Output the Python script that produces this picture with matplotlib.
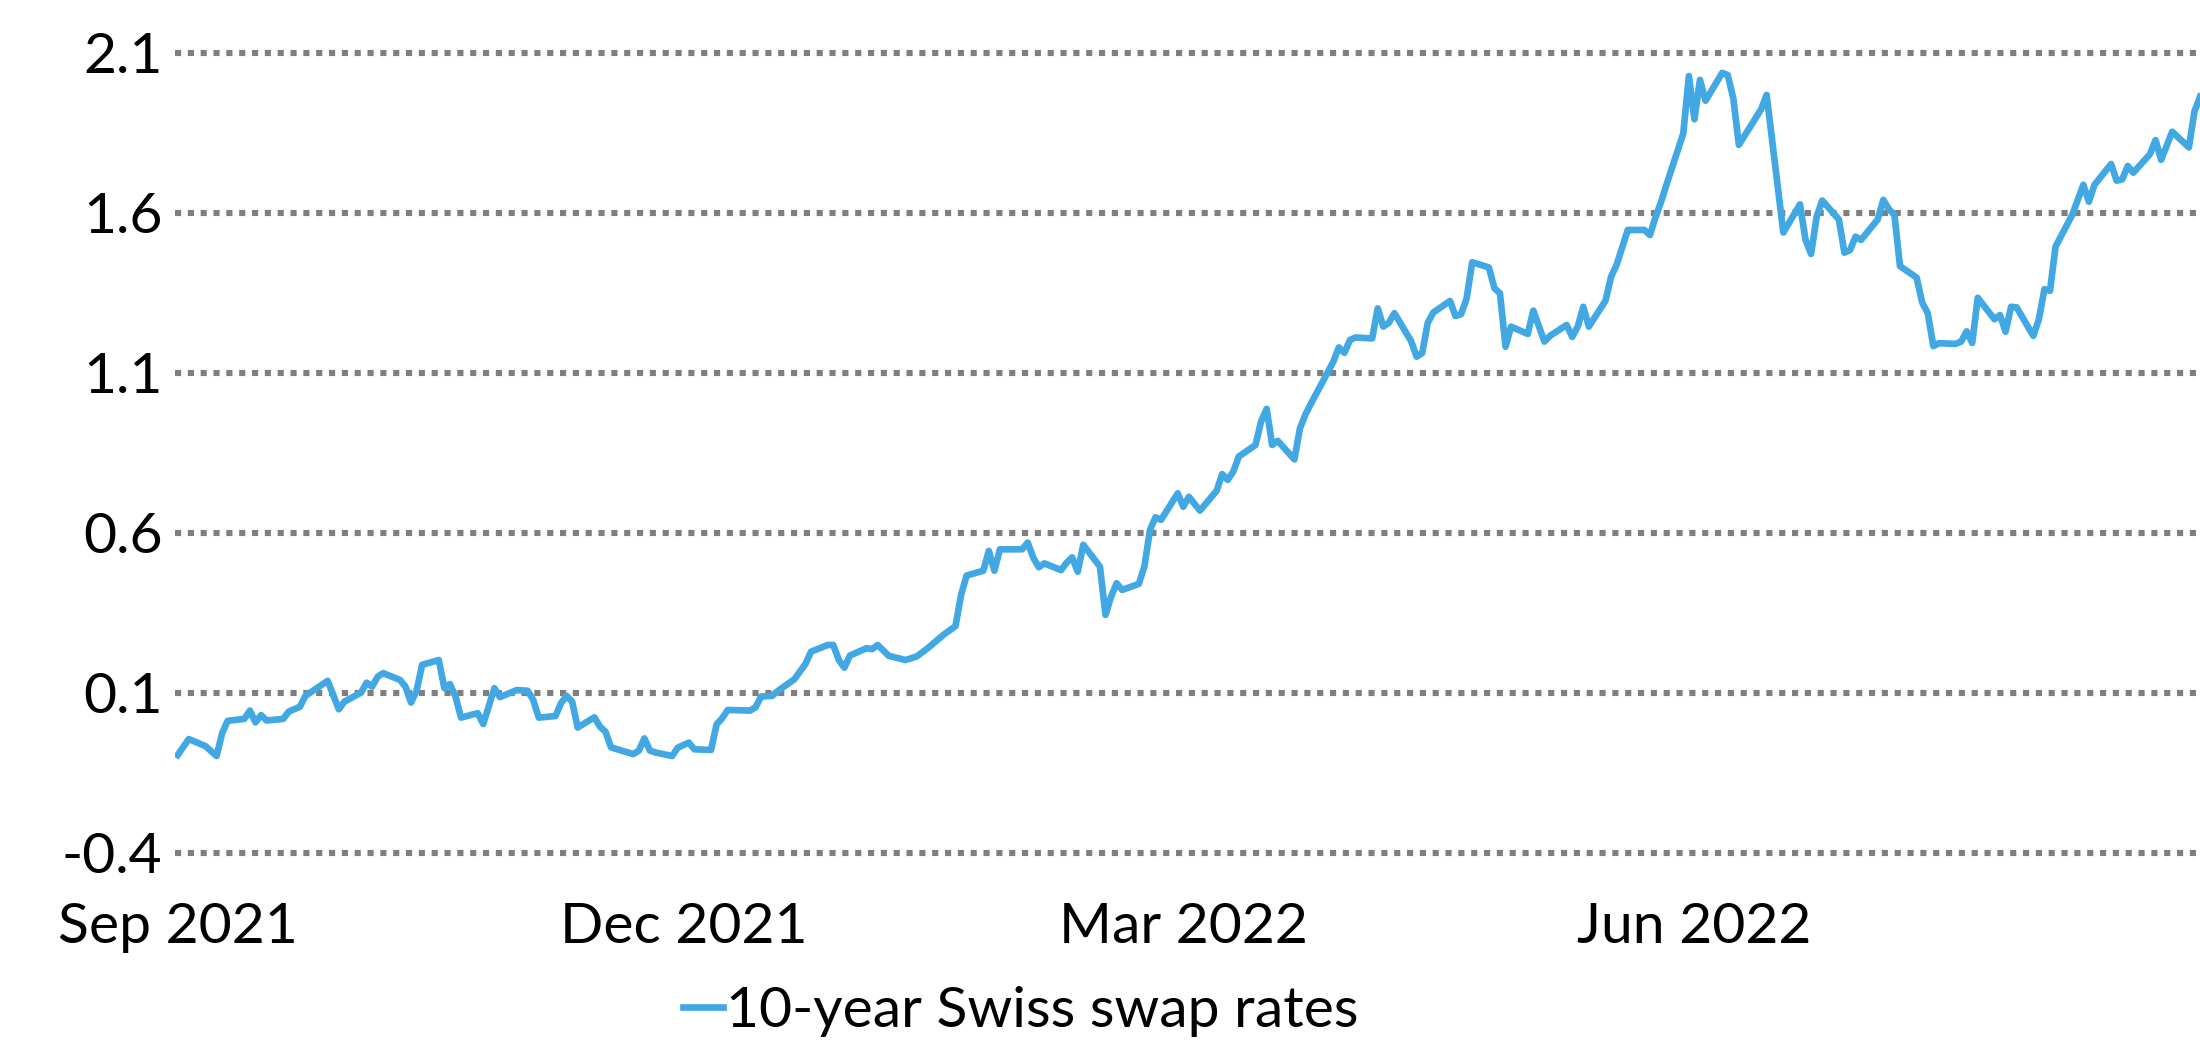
import pandas as pd
import matplotlib.pyplot as plt

plt.rcParams['font.family'] = ['Lato', 'DejaVu Sans']

# 10-year Swiss swap rate (turning points)
dates = [
    "2021-09-01", "2021-09-03", "2021-09-06", "2021-09-08", "2021-09-09", "2021-09-10",
    "2021-09-13", "2021-09-14", "2021-09-15", "2021-09-16", "2021-09-17", "2021-09-20",
    "2021-09-21", "2021-09-23", "2021-09-24", "2021-09-28", "2021-09-30", "2021-10-01",
    "2021-10-04", "2021-10-05", "2021-10-06", "2021-10-07", "2021-10-08", "2021-10-11",
    "2021-10-12", "2021-10-13", "2021-10-14", "2021-10-15", "2021-10-18", "2021-10-19",
    "2021-10-20", "2021-10-21", "2021-10-22", "2021-10-25", "2021-10-26", "2021-10-28",
    "2021-10-29", "2021-11-01", "2021-11-03", "2021-11-04", "2021-11-05", "2021-11-08",
    "2021-11-09", "2021-11-10", "2021-11-11", "2021-11-12", "2021-11-15", "2021-11-16",
    "2021-11-17", "2021-11-18", "2021-11-22", "2021-11-23", "2021-11-24", "2021-11-25",
    "2021-11-26", "2021-11-29", "2021-11-30", "2021-12-02", "2021-12-03", "2021-12-06",
    "2021-12-07", "2021-12-08", "2021-12-09", "2021-12-13", "2021-12-14", "2021-12-15",
    "2021-12-17", "2021-12-18", "2021-12-21", "2021-12-23", "2021-12-24", "2021-12-27",
    "2021-12-28", "2021-12-29", "2021-12-30", "2021-12-31", "2022-01-03", "2022-01-04",
    "2022-01-05", "2022-01-07", "2022-01-10", "2022-01-12", "2022-01-14", "2022-01-17",
    "2022-01-19", "2022-01-20", "2022-01-21", "2022-01-24", "2022-01-25", "2022-01-26",
    "2022-01-27", "2022-01-31", "2022-02-01", "2022-02-02", "2022-02-03", "2022-02-04",
    "2022-02-07", "2022-02-08", "2022-02-09", "2022-02-10", "2022-02-11", "2022-02-14",
    "2022-02-15", "2022-02-16", "2022-02-17", "2022-02-18", "2022-02-21", "2022-02-22",
    "2022-02-23", "2022-02-24", "2022-02-25", "2022-02-28", "2022-03-01", "2022-03-02",
    "2022-03-04", "2022-03-07", "2022-03-08", "2022-03-09", "2022-03-10", "2022-03-11",
    "2022-03-14", "2022-03-15", "2022-03-16", "2022-03-17", "2022-03-18", "2022-03-21",
    "2022-03-22", "2022-03-23", "2022-03-24", "2022-03-28", "2022-03-29", "2022-03-30",
    "2022-03-31", "2022-04-01", "2022-04-04", "2022-04-05", "2022-04-06", "2022-04-07",
    "2022-04-08", "2022-04-11", "2022-04-12", "2022-04-13", "2022-04-14", "2022-04-15",
    "2022-04-18", "2022-04-19", "2022-04-20", "2022-04-21", "2022-04-22", "2022-04-25",
    "2022-04-26", "2022-04-27", "2022-04-28", "2022-04-29", "2022-05-02", "2022-05-03",
    "2022-05-05", "2022-05-06", "2022-05-09", "2022-05-10", "2022-05-11", "2022-05-12",
    "2022-05-13", "2022-05-16", "2022-05-17", "2022-05-18", "2022-05-20", "2022-05-23",
    "2022-05-24", "2022-05-25", "2022-05-26", "2022-05-27", "2022-05-30", "2022-05-31",
    "2022-06-01", "2022-06-02", "2022-06-03", "2022-06-06", "2022-06-07", "2022-06-08",
    "2022-06-09", "2022-06-13", "2022-06-14", "2022-06-17", "2022-06-20", "2022-06-21",
    "2022-06-22", "2022-06-23", "2022-06-24", "2022-06-27", "2022-06-28", "2022-06-29",
    "2022-06-30", "2022-07-01", "2022-07-04", "2022-07-05", "2022-07-06", "2022-07-07",
    "2022-07-08", "2022-07-11", "2022-07-12", "2022-07-13", "2022-07-14", "2022-07-15",
    "2022-07-18", "2022-07-19", "2022-07-20", "2022-07-21", "2022-07-22", "2022-07-25",
    "2022-07-26", "2022-07-27", "2022-07-28", "2022-07-29", "2022-08-01", "2022-08-02",
    "2022-08-03", "2022-08-04", "2022-08-05", "2022-08-08", "2022-08-10", "2022-08-11",
    "2022-08-12", "2022-08-15", "2022-08-16", "2022-08-17", "2022-08-18", "2022-08-19",
    "2022-08-22", "2022-08-23", "2022-08-24", "2022-08-26", "2022-08-29", "2022-08-30",
    "2022-08-31",
]
rates = [
    -0.094, -0.044, -0.066, -0.097, -0.026, 0.013,
    0.019, 0.045, 0.008, 0.031, 0.014, 0.019,
    0.042, 0.057, 0.091, 0.138, 0.049, 0.073,
    0.101, 0.132, 0.120, 0.151, 0.162, 0.141,
    0.120, 0.070, 0.107, 0.188, 0.203, 0.115,
    0.128, 0.089, 0.023, 0.037, 0.003, 0.115,
    0.087, 0.109, 0.107, 0.078, 0.023, 0.028,
    0.068, 0.091, 0.073, -0.008, 0.024, -0.005,
    -0.021, -0.070, -0.091, -0.080, -0.042, -0.080,
    -0.086, -0.097, -0.071, -0.055, -0.076, -0.078,
    0.002, 0.021, 0.047, 0.045, 0.055, 0.089,
    0.091, 0.106, 0.143, 0.191, 0.229, 0.250,
    0.250, 0.203, 0.179, 0.217, 0.240, 0.237,
    0.250, 0.216, 0.203, 0.214, 0.240, 0.284,
    0.309, 0.406, 0.467, 0.482, 0.544, 0.482,
    0.549, 0.549, 0.570, 0.523, 0.493, 0.505,
    0.484, 0.507, 0.524, 0.479, 0.563, 0.495,
    0.344, 0.401, 0.443, 0.422, 0.441, 0.495,
    0.609, 0.649, 0.641, 0.724, 0.682, 0.713,
    0.670, 0.732, 0.784, 0.766, 0.792, 0.839,
    0.875, 0.948, 0.988, 0.875, 0.888, 0.830,
    0.927, 0.971, 1.005, 1.135, 1.180, 1.163,
    1.203, 1.211, 1.208, 1.302, 1.245, 1.257,
    1.287, 1.200, 1.151, 1.162, 1.257, 1.289,
    1.325, 1.278, 1.284, 1.333, 1.446, 1.430,
    1.365, 1.349, 1.182, 1.245, 1.222, 1.295,
    1.198, 1.216, 1.250, 1.213, 1.245, 1.307,
    1.245, 1.326, 1.401, 1.438, 1.547, 1.547,
    1.531, 1.587, 1.635, 1.690, 1.849, 2.028,
    1.893, 2.016, 1.951, 2.038, 2.031, 1.958,
    1.813, 1.924, 1.969, 1.539, 1.627, 1.516,
    1.472, 1.589, 1.639, 1.580, 1.476, 1.484,
    1.526, 1.516, 1.580, 1.641, 1.612, 1.594,
    1.434, 1.398, 1.320, 1.287, 1.184, 1.193,
    1.191, 1.198, 1.230, 1.194, 1.335, 1.268,
    1.281, 1.229, 1.307, 1.305, 1.216, 1.268,
    1.362, 1.357, 1.495, 1.594, 1.688, 1.635,
    1.688, 1.753, 1.701, 1.705, 1.747, 1.726,
    1.784, 1.828, 1.766, 1.854, 1.805, 1.917,
    1.963,
]

y_ticks = [-0.4, 0.1, 0.6, 1.1, 1.6, 2.1]
y_tick_labels = ["-0.4", "0.1", "0.6", "1.1", "1.6", "2.1"]
x_ticks = ["2021-09-01", "2021-12-01", "2022-03-01", "2022-06-01"]
x_tick_labels = ["Sep 2021", "Dec 2021", "Mar 2022", "Jun 2022"]
series_name = "10-year Swiss swap rates"

df = pd.DataFrame({"rate": rates}, index=pd.to_datetime(dates))

fig = plt.figure(figsize=(22, 10.6), dpi=100)
ax = fig.add_axes([0.0795, 0.1953, 0.9205, 0.7547])

ax.plot(df.index, df["rate"], color="#41a8e4", linewidth=4.8,
        solid_joinstyle="round", label=series_name)

ax.set_ylim(-0.4, 2.1)
ax.set_xlim(pd.Timestamp("2021-08-31 12:00"), pd.Timestamp("2022-08-31"))
ax.set_yticks(y_ticks)
ax.set_yticklabels(y_tick_labels)
ax.set_xticks(pd.to_datetime(x_ticks))
ax.set_xticklabels(x_tick_labels)

ax.grid(axis="y", color="#7f7f7f", linestyle=(0, (1.0, 1.1)), linewidth=4.4)
ax.grid(axis="x", visible=False)
for gl in ax.get_ygridlines():
    gl.set_clip_on(False)
ax.set_axisbelow(True)
for s in ax.spines.values():
    s.set_visible(False)
ax.tick_params(axis="both", length=0, labelsize=41, colors="black")
ax.tick_params(axis="y", pad=9)
ax.tick_params(axis="x", pad=35)

fig.legend(loc="center", bbox_to_anchor=(0.464, 0.046), frameon=False,
           fontsize=41, handlelength=0.7, handletextpad=0.05)

plt.savefig("out.png", dpi=100)
